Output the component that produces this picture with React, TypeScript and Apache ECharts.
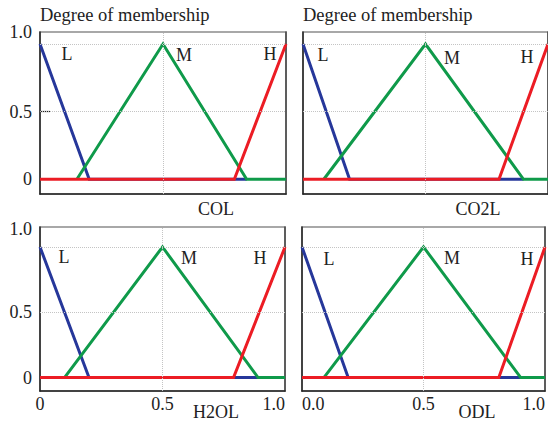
import React, { useEffect, useRef } from "react";
import * as echarts from "echarts";

// Membership functions: [input level, degree of membership]
const COL_LOW = [[0, 1], [0.2, 0], [0.84, 0]];
const COL_MEDIUM = [[0.15, 0], [0.5, 1], [0.84, 0], [1, 0]];
const COL_HIGH = [[0, 0], [0.79, 0], [1, 1]];

const CO2L_LOW = [[0, 1], [0.19, 0], [0.9, 0]];
const CO2L_MEDIUM = [[0.085, 0], [0.5, 1], [0.9, 0], [1, 0]];
const CO2L_HIGH = [[0, 0], [0.8, 0], [1, 1]];

const H2OL_LOW = [[0, 1], [0.2, 0], [0.89, 0]];
const H2OL_MEDIUM = [[0.1, 0], [0.5, 1], [0.89, 0], [1, 0]];
const H2OL_HIGH = [[0, 0], [0.79, 0], [1, 1]];

const ODL_LOW = [[0, 1], [0.19, 0], [0.9, 0]];
const ODL_MEDIUM = [[0.09, 0], [0.5, 1], [0.9, 0], [1, 0]];
const ODL_HIGH = [[0, 0], [0.81, 0], [1, 1]];

const TICK_VALUES = [0, 0.5, 1];
const GRID_VALUES = [0.5, 1];
const SET_NAMES = ["L", "M", "H"];
const Y_TITLE = "Degree of membership";

const FONT = "'Liberation Serif', 'Times New Roman', serif";
const TEXT = "#222";
const COLORS = ["#26379a", "#0f9a4a", "#ec1c24"];

type Panel = {
  name: string;
  sets: number[][][];
  grid: { left: number; top: number; width: number; height: number };
  yMin: number;
  yMax: number;
  showY: boolean;
  showX: boolean;
  zeroLabel: string;
  topShift: number;
  nameAt: [number, number];
  setLabelsAt: [number, number][];
};

const PANELS: Panel[] = [
  {
    name: "COL",
    sets: [COL_LOW, COL_MEDIUM, COL_HIGH],
    grid: { left: 40, top: 32, width: 246, height: 162 },
    yMin: -0.109,
    yMax: 1.089,
    showY: true,
    showX: false,
    zeroLabel: "0",
    topShift: 12,
    nameAt: [216, 209],
    setLabelsAt: [[67, 54], [184, 55], [270, 54]],
  },
  {
    name: "CO2L",
    sets: [CO2L_LOW, CO2L_MEDIUM, CO2L_HIGH],
    grid: { left: 303, top: 32, width: 247, height: 162 },
    yMin: -0.109,
    yMax: 1.089,
    showY: false,
    showX: false,
    zeroLabel: "0.0",
    topShift: 12,
    nameAt: [478, 209],
    setLabelsAt: [[323, 55], [452, 58], [527, 57]],
  },
  {
    name: "H2OL",
    sets: [H2OL_LOW, H2OL_MEDIUM, H2OL_HIGH],
    grid: { left: 40, top: 227, width: 245, height: 164 },
    yMin: -0.103,
    yMax: 1.153,
    showY: true,
    showX: true,
    zeroLabel: "0",
    topShift: 18,
    nameAt: [216, 412],
    setLabelsAt: [[64, 257], [189, 258], [260, 258]],
  },
  {
    name: "ODL",
    sets: [ODL_LOW, ODL_MEDIUM, ODL_HIGH],
    grid: { left: 302, top: 227, width: 247, height: 164 },
    yMin: -0.103,
    yMax: 1.153,
    showY: false,
    showX: true,
    zeroLabel: "0.0",
    topShift: 18,
    nameAt: [477, 412],
    setLabelsAt: [[329, 259], [452, 258], [527, 259]],
  },
];

const TITLES_AT: [number, number][] = [[40, 15], [303, 15]];

function buildOption() {
  const grid: any[] = [];
  const xAxis: any[] = [];
  const yAxis: any[] = [];
  const series: any[] = [];
  const graphic: any[] = [];

  const textStyle = { fontFamily: FONT, fontSize: 18, color: TEXT };

  PANELS.forEach((p, i) => {
    grid.push({
      ...p.grid,
      show: true,
      borderColor: "#8c8c8c",
      borderWidth: 1.5,
      backgroundColor: "transparent",
    });

    xAxis.push({
      type: "value",
      gridIndex: i,
      min: 0,
      max: 1,
      axisLine: { show: true, onZero: false, lineStyle: { color: "#222", width: 1.5 } },
      axisTick: { show: false },
      splitLine: { show: false },
      axisLabel: {
        show: p.showX,
        customValues: TICK_VALUES,
        margin: 4,
        ...textStyle,
        alignMinLabel: p.zeroLabel === "0" ? "center" : "left",
        alignMaxLabel: "right",
        formatter: (v: number) => (v === 0 ? p.zeroLabel : v.toFixed(1)),
      },
    });

    // main value axis (left side of the frame)
    yAxis.push({
      type: "value",
      gridIndex: i,
      min: p.yMin,
      max: p.yMax,
      axisLine: { show: true, onZero: false, lineStyle: { color: "#222", width: 1.5 } },
      axisTick: {
        show: i === 0,
        inside: true,
        length: 10,
        customValues: [0.5],
        lineStyle: { color: "#222", width: 1.2 },
      },
      splitLine: { show: false },
      axisLabel: {
        show: p.showY,
        customValues: TICK_VALUES,
        margin: 8,
        ...textStyle,
        formatter: (v: number) =>
          v === 0 ? "0" : v === 1 ? "{top|1.0}" : v.toFixed(1),
        rich: {
          top: { ...textStyle, padding: [0, 0, p.topShift * 2, 0] },
        },
      },
    });
  });

  // right-hand frame edges
  PANELS.forEach((p, i) => {
    yAxis.push({
      type: "value",
      gridIndex: i,
      position: "right",
      min: p.yMin,
      max: p.yMax,
      axisLine: { show: true, onZero: false, lineStyle: { color: "#444", width: 1.5 } },
      axisTick: { show: false },
      axisLabel: { show: false },
      splitLine: { show: false },
    });
  });

  PANELS.forEach((p, i) => {
    // dotted reference grid at 0.5 / 1.0
    series.push({
      type: "line",
      xAxisIndex: i,
      yAxisIndex: i,
      data: [],
      z: 1,
      silent: true,
      markLine: {
        silent: true,
        symbol: "none",
        label: { show: false },
        lineStyle: { type: "dotted", color: "#c4c4c4", width: 1 },
        data: [
          ...GRID_VALUES.map((v) => ({ yAxis: v })),
          { xAxis: 0.5 },
        ],
      },
    });

    p.sets.forEach((data, k) => {
      series.push({
        type: "line",
        name: `${p.name} ${SET_NAMES[k]}`,
        xAxisIndex: i,
        yAxisIndex: i,
        data,
        showSymbol: false,
        symbol: "none",
        z: 2 + k,
        lineStyle: { color: COLORS[k], width: 3, cap: "butt", join: "miter" },
        silent: true,
      });
    });

    p.setLabelsAt.forEach(([x, y], k) => {
      graphic.push({
        type: "text",
        x,
        y,
        style: {
          text: SET_NAMES[k],
          fill: TEXT,
          font: `18px ${FONT}`,
          textAlign: "center",
          textVerticalAlign: "middle",
        },
      });
    });

    graphic.push({
      type: "text",
      x: p.nameAt[0],
      y: p.nameAt[1],
      style: {
        text: p.name,
        fill: TEXT,
        font: `18px ${FONT}`,
        textAlign: "center",
        textVerticalAlign: "middle",
      },
    });
  });

  TITLES_AT.forEach(([x, y]) => {
    graphic.push({
      type: "text",
      x,
      y,
      style: {
        text: Y_TITLE,
        fill: TEXT,
        font: `18.5px ${FONT}`,
        textAlign: "left",
        textVerticalAlign: "middle",
      },
    });
  });

  return {
    animation: false,
    backgroundColor: "#fff",
    grid,
    xAxis,
    yAxis,
    series,
    graphic,
  };
}

export default function App() {
  const ref = useRef<HTMLDivElement>(null);

  useEffect(() => {
    if (!ref.current) return;
    const chart = echarts.init(ref.current, undefined, { renderer: "svg" });
    chart.setOption(buildOption() as any);
    return () => chart.dispose();
  }, []);

  return (
    <div
      ref={ref}
      style={{ position: "fixed", left: 0, top: 0, width: 548, height: 423 }}
    />
  );
}
